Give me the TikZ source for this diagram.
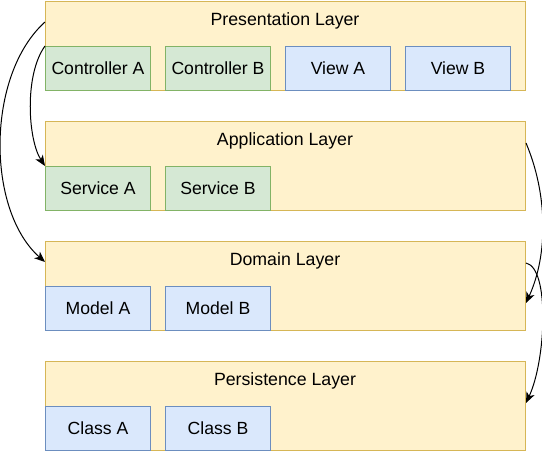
\documentclass[tikz,border=0pt]{standalone}
\usepackage{fontspec}
\setmainfont{Liberation Sans}
\usetikzlibrary{arrows.meta,calc}
\definecolor{layfill}{HTML}{FFF2CC}
\definecolor{laydraw}{HTML}{D6B656}
\definecolor{gfill}{HTML}{D5E8D4}
\definecolor{gdraw}{HTML}{82B366}
\definecolor{bfill}{HTML}{DAE8FC}
\definecolor{bdraw}{HTML}{6C8EBF}
\begin{document}
\begin{tikzpicture}[x=0.75pt,y=-0.75pt,
  layer/.style={draw=laydraw,fill=layfill,line width=0.75pt,minimum width=480*0.75pt,minimum height=89*0.75pt,inner sep=0pt,anchor=north west},
  ltitle/.style={font=\fontsize{13.3pt}{15pt}\selectfont,inner sep=0pt},
  gbox/.style={draw=gdraw,fill=gfill,line width=0.75pt,minimum width=105*0.75pt,minimum height=44*0.75pt,inner sep=0pt,anchor=north west,font=\fontsize{13.2pt}{15pt}\selectfont},
  bbox/.style={gbox,draw=bdraw,fill=bfill},
  conn/.style={-{Stealth[length=8pt,width=6.5pt,inset=2.2pt]},line width=0.75pt,black}]
\useasboundingbox (0,0) rectangle (542,452);
% layers
\node[layer] (pres) at (45,1) {};
\node[layer] (app) at (45,121) {};
\node[layer] (dom) at (45,241) {};
\node[layer] (pers) at (45,361) {};
\node[ltitle] (prest) at (285,21) {Presentation Layer};
\node[ltitle] (appt) at (285,141) {Application Layer};
\node[ltitle] (domt) at (285,261) {Domain Layer};
\node[ltitle] (perst) at (285,381) {Persistence Layer};
% boxes
\node[gbox] (ca) at (45,46) {Controller A};
\node[gbox] (cb) at (165,46) {Controller B};
\node[bbox] (va) at (285,46) {View A};
\node[bbox] (vb) at (405,46) {View B};
\node[gbox] (sa) at (45,166) {Service A};
\node[gbox] (sb) at (165,166) {Service B};
\node[bbox] (ma) at (45,286) {Model A};
\node[bbox] (mb) at (165,286) {Model B};
\node[bbox] (cla) at (45,406) {Class A};
\node[bbox] (clb) at (165,406) {Class B};
% connector endpoints
\coordinate (s1) at ($(prest -| pres.west)+(0,1)$);
\coordinate (e1) at ($(domt -| dom.west)+(0,1)$);
\coordinate (s3) at ($(appt -| app.east)+(0,2)$);
\coordinate (e3) at ($(ma.north -| dom.east)+(0,17)$);
\coordinate (s4) at ($(domt -| dom.east)+(0,2)$);
\coordinate (e4) at ($(cla.north -| pers.east)+(0,-3)$);
% connectors
\draw[conn] (s1) .. controls (-14,75) and (-14,210) .. (e1);
\draw[conn] (ca.north west) .. controls (24,75) and (28,140) .. (sa.north west);
\draw[conn] (s3) .. controls (548,195) and (548,255) .. (e3);
\draw[conn] (s4) .. controls (550,268) and (546,360) .. (e4);
\end{tikzpicture}
\end{document}
